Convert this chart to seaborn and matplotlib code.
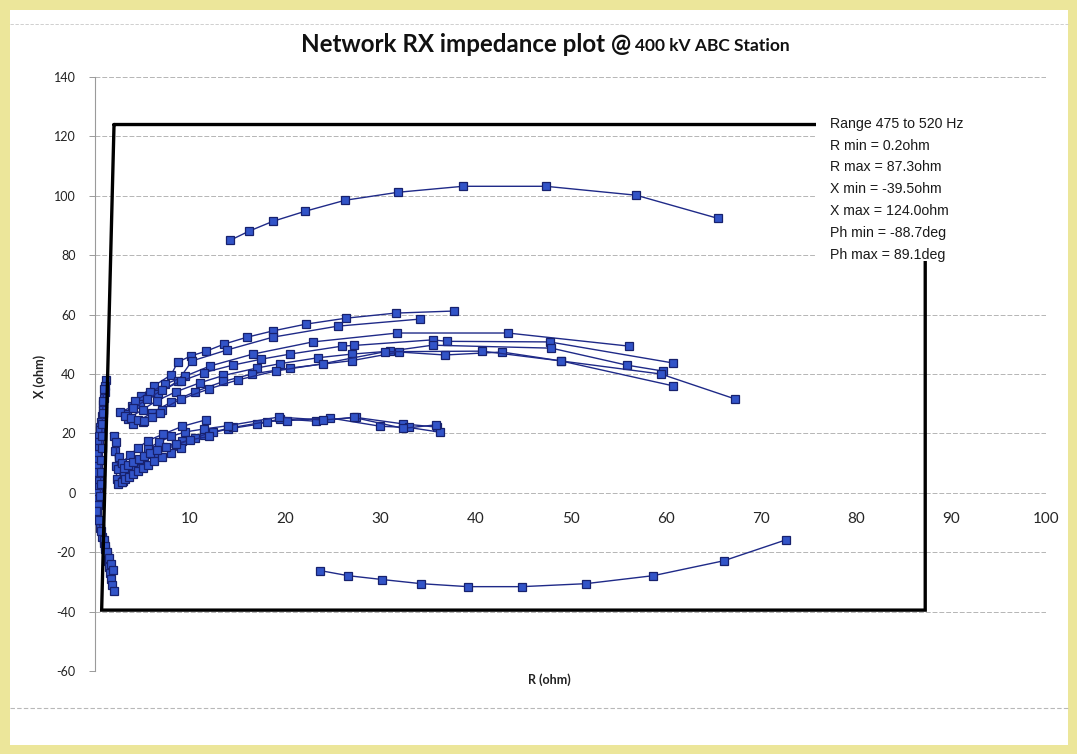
import numpy as np
import pandas as pd
import matplotlib
matplotlib.use("Agg")
import matplotlib.pyplot as plt
from matplotlib.patches import Rectangle
import seaborn as sns

# ---------------- data ----------------
TOP_R = [14.2, 16.2, 18.7, 22.1, 26.3, 31.9, 38.7, 47.4, 56.9, 65.5]
TOP_X = [85.0, 88.1, 91.4, 94.8, 98.5, 101.2, 103.2, 103.2, 100.2, 92.4]

NEG_R = [23.7, 26.6, 30.2, 34.3, 39.2, 44.9, 51.6, 58.7, 66.1, 72.7]
NEG_X = [-26.2, -27.9, -29.2, -30.6, -31.6, -31.6, -30.6, -27.9, -22.9, -15.8]

M1_R = [3.4, 3.9, 4.8, 6.2, 8.0, 8.7, 10.1, 11.7, 13.6, 16.0, 18.7, 22.2, 26.4, 31.6, 37.7]
M1_X = [26.6, 29.2, 32.6, 36.0, 39.7, 44.0, 46.1, 47.7, 50.1, 52.4, 54.5, 56.8, 58.8, 60.5, 61.2]
M2_R = [2.6, 4.7, 6.6, 8.7, 10.2, 13.9, 18.7, 25.5, 34.2]
M2_X = [27.2, 29.9, 33.3, 37.6, 44.4, 48.1, 52.4, 56.1, 58.5]
M3_R = [4.2, 5.8, 7.4, 9.5, 12.1, 16.6, 22.9, 31.8, 43.4, 56.1]
M3_X = [30.9, 33.9, 36.6, 39.3, 42.7, 46.7, 50.8, 53.8, 53.8, 49.4]
M4_R = [4.0, 5.5, 7.0, 9.0, 11.5, 14.5, 17.5, 20.5, 26.0, 27.2, 35.5, 37.0, 47.8, 60.8]
M4_X = [28.5, 31.5, 34.5, 37.5, 40.5, 43.0, 45.0, 46.7, 49.4, 49.6, 51.5, 51.0, 50.8, 43.7]
M5_R = [3.5, 5.0, 6.5, 8.5, 11.0, 13.5, 17.0, 19.5, 23.5, 27.0, 31.0, 35.5, 48.0, 55.9, 59.7]
M5_X = [25.0, 28.0, 31.0, 34.0, 37.0, 39.5, 42.0, 43.5, 45.5, 46.7, 47.7, 49.7, 48.7, 43.0, 41.0]
M6_R = [4.0, 6.0, 8.0, 10.5, 13.5, 16.5, 20.5, 27.0, 32.0, 36.8, 42.8, 49.0, 60.8]
M6_X = [23.0, 27.0, 30.5, 34.0, 37.5, 40.0, 42.0, 44.5, 47.4, 46.4, 47.4, 44.4, 36.0]
M7_R = [5.0, 7.0, 9.0, 12.0, 15.0, 19.0, 24.0, 30.5, 40.7, 49.0, 59.5, 67.3]
M7_X = [24.0, 28.0, 31.5, 35.0, 38.0, 41.0, 43.5, 47.5, 47.7, 44.4, 40.0, 31.6]
M8_R = [3.2, 3.8, 4.5, 5.2, 6.0, 6.8]
M8_X = [26.0, 25.2, 24.6, 24.2, 25.5, 27.0]

L1_R = [2.0, 2.1, 2.2, 2.3, 2.8, 3.3, 3.8, 4.5, 5.6, 7.2, 9.2, 11.5, 14.0, 17.0, 19.5, 23.2, 27.4, 32.4, 36.0]
L1_X = [19.0, 14.0, 9.0, 4.5, 3.5, 5.5, 7.5, 9.5, 13.0, 15.5, 17.5, 19.5, 21.5, 23.0, 24.9, 24.1, 25.4, 23.2, 22.1]
L2_R = [2.2, 2.4, 2.9, 3.5, 4.2, 5.0, 6.5, 8.5, 10.5, 12.4, 14.5, 18.1, 20.2, 24.7, 30.0, 33.0, 36.3]
L2_X = [17.0, 8.0, 4.0, 6.5, 8.5, 10.5, 13.5, 16.0, 18.5, 20.5, 22.0, 24.0, 24.3, 25.2, 22.4, 22.0, 20.4]
L3_R = [2.5, 3.0, 3.8, 4.5, 5.6, 6.7, 8.0, 9.5, 11.5, 14.0, 19.3, 24.0, 27.2, 32.4, 35.9]
L3_X = [12.0, 6.0, 8.0, 11.0, 15.0, 17.0, 19.0, 20.5, 21.5, 22.6, 25.5, 24.5, 25.4, 21.7, 22.9]
L4_R = [2.8, 3.7, 4.5, 5.6, 7.2, 9.2, 11.7]
L4_X = [10.0, 12.8, 15.1, 17.6, 19.8, 22.4, 24.6]
L5_R = [2.4, 2.8, 3.2, 3.6, 4.0, 4.5, 5.0, 5.6, 6.2, 7.0, 8.0, 9.0]
L5_X = [3.0, 3.8, 4.6, 5.4, 6.2, 7.2, 8.2, 9.4, 10.6, 12.0, 13.5, 15.0]
L6_R = [3.0, 3.5, 4.0, 4.6, 5.2, 5.8, 6.5, 7.5, 8.5, 10.0, 12.0]
L6_X = [8.5, 9.5, 10.5, 11.5, 12.5, 13.5, 14.5, 15.5, 16.5, 17.8, 19.0]

V1_R = [1.2, 1.1, 1.0, 0.9, 0.85, 0.8, 0.7, 0.6, 0.55]
V1_X = [38.0, 36.0, 34.0, 32.0, 30.0, 28.0, 26.0, 24.0, 22.0]
V2_R = [0.5, 0.45, 0.4, 0.4, 0.35, 0.3, 0.3, 0.3]
V2_X = [21.0, 19.0, 17.0, 15.0, 13.0, 11.0, 9.0, 7.0]
V3_R = [0.4, 0.4, 0.35, 0.3, 0.3, 0.2, 0.1]
V3_X = [4.0, 2.0, 0.0, -2.0, -4.0, -6.0, -7.5]
V4_R = [0.1, 0.3, 0.5, 0.7, 0.9, 1.1, 1.3, 1.4, 1.5, 1.6, 1.7, 1.8, 2.0]
V4_X = [-6.0, -9.0, -12.0, -15.0, -17.0, -19.0, -21.0, -23.0, -25.0, -27.0, -29.0, -31.0, -33.0]
V5_R = [0.4, 0.6, 0.9, 1.1, 1.3, 1.5, 1.7, 1.9]
V5_X = [-9.0, -13.0, -16.0, -18.0, -20.0, -22.0, -24.0, -26.0]
V6_R = [0.9, 0.85, 0.8, 0.75, 0.7, 0.7, 0.65, 0.6, 0.6, 0.55]
V6_X = [35.0, 31.0, 27.0, 23.0, 19.0, 15.0, 11.0, 7.0, 3.0, -1.0]

SERIES = {
    "top": (TOP_R, TOP_X), "neg": (NEG_R, NEG_X),
    "m1": (M1_R, M1_X), "m2": (M2_R, M2_X), "m3": (M3_R, M3_X), "m4": (M4_R, M4_X),
    "m5": (M5_R, M5_X), "m6": (M6_R, M6_X), "m7": (M7_R, M7_X), "m8": (M8_R, M8_X),
    "l1": (L1_R, L1_X), "l2": (L2_R, L2_X), "l3": (L3_R, L3_X), "l4": (L4_R, L4_X),
    "l5": (L5_R, L5_X), "l6": (L6_R, L6_X),
    "v1": (V1_R, V1_X), "v2": (V2_R, V2_X), "v3": (V3_R, V3_X), "v4": (V4_R, V4_X),
    "v5": (V5_R, V5_X), "v6": (V6_R, V6_X),
}

# limit box (R min/max, X min/max)
BOX_R = [2.0, 87.3, 87.3, 0.7, 2.0]
BOX_X = [124.0, 124.0, -39.5, -39.5, 124.0]

INFO_LINES = ["Range 475 to 520 Hz", "R min = 0.2ohm", "R max = 87.3ohm",
              "X min = -39.5ohm", "X max = 124.0ohm", "Ph min = -88.7deg",
              "Ph max = 89.1deg"]

Y_TICKS = [-60, -40, -20, 0, 20, 40, 60, 80, 100, 120, 140]
X_TICKS = [10, 20, 30, 40, 50, 60, 70, 80, 90, 100]

# ---------------- figure ----------------
sns.set_theme(style="white")
plt.rcParams["font.family"] = ["Lato", "DejaVu Sans"]

W, H = 1077, 754
fig = plt.figure(figsize=(W / 100, H / 100), dpi=100)
fig.patch.set_facecolor("#ece69a")
fig.patches.append(Rectangle((10 / W, 9 / H), 1058 / W, 735 / H, transform=fig.transFigure,
                             facecolor="white", edgecolor="none", zorder=-5))
# faint scan lines
fig.add_artist(plt.Line2D([10 / W, 1068 / W], [1 - 24 / H, 1 - 24 / H], transform=fig.transFigure,
                          color="#c8c8c8", lw=0.6, ls=(0, (4, 2)), zorder=-4))
fig.add_artist(plt.Line2D([10 / W, 1068 / W], [1 - 708 / H, 1 - 708 / H], transform=fig.transFigure,
                          color="#b8b8b8", lw=0.8, ls=(0, (4, 2)), zorder=-4))

ax = fig.add_axes([95 / W, 1 - 671 / H, 951 / W, 594 / H])
ax.set_zorder(2)
ax.set_facecolor("none")

rows = []
for name, (rr, xx) in SERIES.items():
    for i, (r, x) in enumerate(zip(rr, xx)):
        rows.append({"series": name, "order": i, "R": r, "X": x})
df = pd.DataFrame(rows)

sns.lineplot(data=df, x="R", y="X", units="series", estimator=None, sort=False,
             color="#1f2a88", lw=1.0, marker="s", markersize=5.2,
             markerfacecolor="#3254c8", markeredgecolor="#17216e", markeredgewidth=0.9,
             ax=ax, zorder=3, legend=False)

ax.plot(BOX_R, BOX_X, color="black", lw=2.4, zorder=4, solid_joinstyle="miter")

# white panel behind the info text (hides part of the box outline)
ax.add_patch(Rectangle((75.8, 78.0), 30, 60, facecolor="white", edgecolor="none",
                       zorder=5, clip_on=True))
ax.text(77.3, 126.6, "\n".join(INFO_LINES), ha="left", va="top", fontsize=10.2,
        family=["Liberation Sans", "DejaVu Sans"], color="#1a1a1a", linespacing=1.71,
        zorder=6)

ax.set_xlim(0, 100)
ax.set_ylim(-60, 140)
ax.set_yticks(Y_TICKS)
ax.set_yticklabels([str(v) for v in Y_TICKS], fontsize=9, color="#222222")
ax.set_xticks(X_TICKS)
ax.set_xticklabels([str(v) for v in X_TICKS], fontsize=9.5, color="#222222")
ax.grid(axis="y", color="#b5b5b5", lw=0.7, ls=(0, (5, 2)))
ax.grid(axis="x", visible=False)
ax.set_axisbelow(True)
for s in ["top", "right"]:
    ax.spines[s].set_visible(False)
ax.spines["left"].set_color("#9a9a9a")
ax.spines["left"].set_linewidth(0.8)
ax.spines["bottom"].set_position(("data", 0))
ax.spines["bottom"].set_visible(False)
ax.tick_params(axis="y", length=4, width=0.7, color="#9a9a9a", pad=10, left=True)
ax.tick_params(axis="x", length=0, pad=14)
ax.set_xlabel("")
ax.set_ylabel("")

ax.text(0.478, -0.015, "R (ohm)", transform=ax.transAxes, ha="center", va="center",
        fontsize=9, fontweight="bold", color="#222222")
fig.text(40 / W, 1 - 376 / H, "X (ohm)", rotation=90, ha="center", va="center",
         fontsize=9, fontweight="bold", color="#222222")

fig.text(631 / W, 1 - 45 / H, "Network RX impedance plot @", ha="right", va="center",
         fontsize=17.4, fontweight="bold", color="#111111")
fig.text(635 / W, 1 - 46 / H, "400 kV ABC Station", ha="left", va="center",
         fontsize=12.5, fontweight="bold", color="#111111")

fig.savefig("out.png", dpi=100, facecolor=fig.get_facecolor())
